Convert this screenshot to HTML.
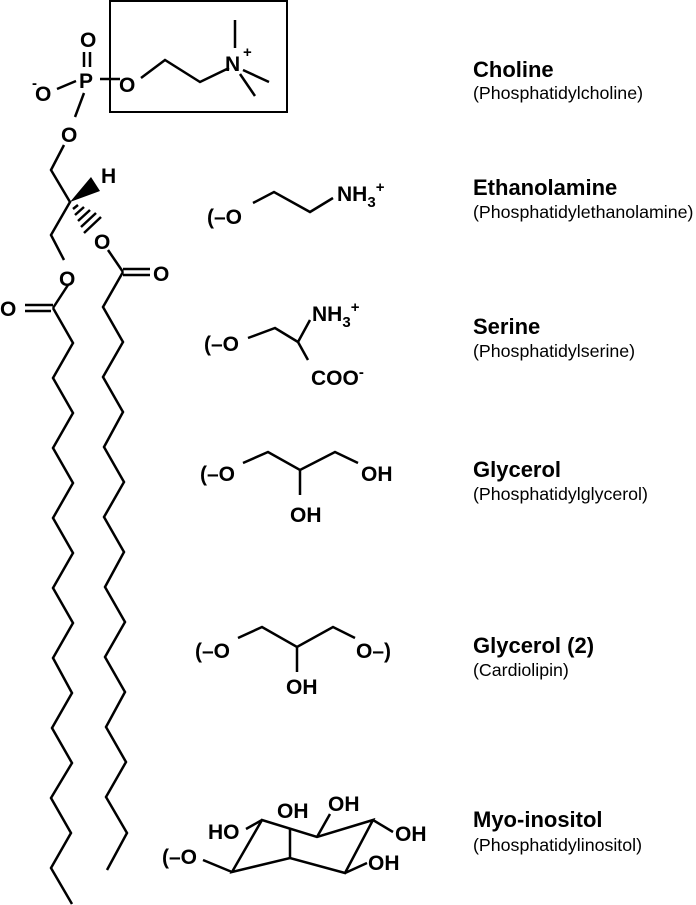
<!DOCTYPE html>
<html><head><meta charset="utf-8"><style>
html,body{margin:0;padding:0;background:#fff;}
svg{display:block;}
.a{font-family:"Liberation Sans",sans-serif;font-weight:bold;font-size:21px;fill:#000;}
.t{font-family:"Liberation Sans",sans-serif;font-weight:bold;font-size:22px;fill:#000;}
.s{font-family:"Liberation Sans",sans-serif;font-size:17.8px;fill:#000;}
</style></head><body>
<svg width="696" height="905" viewBox="0 0 696 905" xmlns="http://www.w3.org/2000/svg">
<g stroke="#000" stroke-width="2.5" fill="none" stroke-linejoin="miter">
<rect x="110" y="1" width="177" height="111" stroke-width="2"/>
<line x1="84" y1="52" x2="84" y2="67"/><line x1="90" y1="52" x2="90" y2="67"/>
<line x1="57" y1="89" x2="76" y2="81"/>
<line x1="100" y1="79" x2="120" y2="79"/>
<line x1="84" y1="93" x2="75" y2="117"/>
<polyline points="141,78 165,60 200,82 229,68"/>
<line x1="235" y1="20" x2="235" y2="48"/>
<line x1="243" y1="70" x2="269" y2="82"/>
<line x1="240" y1="74" x2="255" y2="96"/>
<polyline points="64,145 51,170 70,202 51,235 64,260"/>
<line x1="73" y1="209" x2="78" y2="205"/>
<line x1="75" y1="215" x2="84" y2="207"/>
<line x1="78" y1="221" x2="90" y2="210"/>
<line x1="81" y1="227" x2="96" y2="213"/>
<line x1="84" y1="233" x2="101" y2="217"/>
<line x1="68" y1="285" x2="53" y2="308"/>
<line x1="25" y1="305" x2="53" y2="305"/><line x1="25" y1="311" x2="51" y2="311"/>
<polyline points="53,308 73,343 53,378 73,413 53,448 73,483 53,518 73,553 53,588 73,623 53,658 72,693 52,728 72,763 51,798 71,833 51,868 72,904"/>
<line x1="108" y1="250" x2="123" y2="272"/>
<line x1="123" y1="269" x2="150" y2="269"/><line x1="123" y1="275" x2="150" y2="275"/>
<polyline points="123,272 103,307 123,342 103,377 123,412 104,447 124,482 104,517 124,552 105,587 125,622 105,657 125,692 106,727 126,762 106,797 127,833 107,870"/>
<polyline points="253,203 274,192 310,212 333,198"/>
<polyline points="248,338 275,328 298,342"/>
<line x1="298" y1="342" x2="310" y2="320"/>
<line x1="298" y1="342" x2="308" y2="360"/>
<polyline points="243,463 268,452 300,470 335,452 358,463"/>
<line x1="300" y1="470" x2="300" y2="495"/>
<polyline points="238,638 262,627 297,647 333,627 355,638"/>
<line x1="297" y1="647" x2="297" y2="672"/>
<line x1="203" y1="860" x2="232" y2="872"/>
<polygon points="232,872 262,820 317,837 373,820 345,873 290,858"/>
<line x1="290" y1="858" x2="290" y2="828"/>
<line x1="262" y1="820" x2="246" y2="829"/>
<line x1="317" y1="837" x2="330" y2="814"/>
<line x1="373" y1="820" x2="393" y2="832"/>
<line x1="345" y1="873" x2="367" y2="863"/>
</g>
<polygon points="70,202 91,177 100,191" fill="#000"/>
<text class="a" x="80" y="47">O</text>
<text class="a" x="79" y="88">P</text>
<text class="a" x="35" y="101">O</text>
<text class="a" x="32" y="88" style="font-size:15px">-</text>
<text class="a" x="119" y="92">O</text>
<text class="a" x="61" y="142">O</text>
<text class="a" x="225" y="71">N</text>
<text class="a" x="243" y="57" style="font-size:15px">+</text>
<text class="a" x="101" y="183">H</text>
<text class="a" x="59" y="286">O</text>
<text class="a" x="0" y="316">O</text>
<text class="a" x="94" y="249">O</text>
<text class="a" x="153" y="281">O</text>
<text class="a" x="207" y="224">(–O</text>
<text class="a" x="337" y="201">NH<tspan dy="6" style="font-size:15px">3</tspan><tspan dy="-15" style="font-size:15px">+</tspan></text>
<text class="a" x="204" y="351">(–O</text>
<text class="a" x="312" y="321">NH<tspan dy="6" style="font-size:15px">3</tspan><tspan dy="-15" style="font-size:15px">+</tspan></text>
<text class="a" x="311" y="385">COO<tspan dy="-8" style="font-size:15px">-</tspan></text>
<text class="a" x="200" y="481">(–O</text>
<text class="a" x="361" y="481">OH</text>
<text class="a" x="290" y="522">OH</text>
<text class="a" x="195" y="658">(–O</text>
<text class="a" x="356" y="658">O–)</text>
<text class="a" x="286" y="694">OH</text>
<text class="a" x="162" y="864">(–O</text>
<text class="a" x="208" y="839">HO</text>
<text class="a" x="277" y="818">OH</text>
<text class="a" x="328" y="811">OH</text>
<text class="a" x="395" y="841">OH</text>
<text class="a" x="368" y="870">OH</text>
<text class="t" x="473" y="77">Choline</text>
<text class="s" x="473" y="99">(Phosphatidylcholine)</text>
<text class="t" x="473" y="195">Ethanolamine</text>
<text class="s" x="473" y="218">(Phosphatidylethanolamine)</text>
<text class="t" x="473" y="334">Serine</text>
<text class="s" x="473" y="357">(Phosphatidylserine)</text>
<text class="t" x="473" y="477">Glycerol</text>
<text class="s" x="473" y="500">(Phosphatidylglycerol)</text>
<text class="t" x="473" y="653">Glycerol (2)</text>
<text class="s" x="473" y="676">(Cardiolipin)</text>
<text class="t" x="473" y="827">Myo-inositol</text>
<text class="s" x="473" y="851">(Phosphatidylinositol)</text>
</svg>
</body></html>
